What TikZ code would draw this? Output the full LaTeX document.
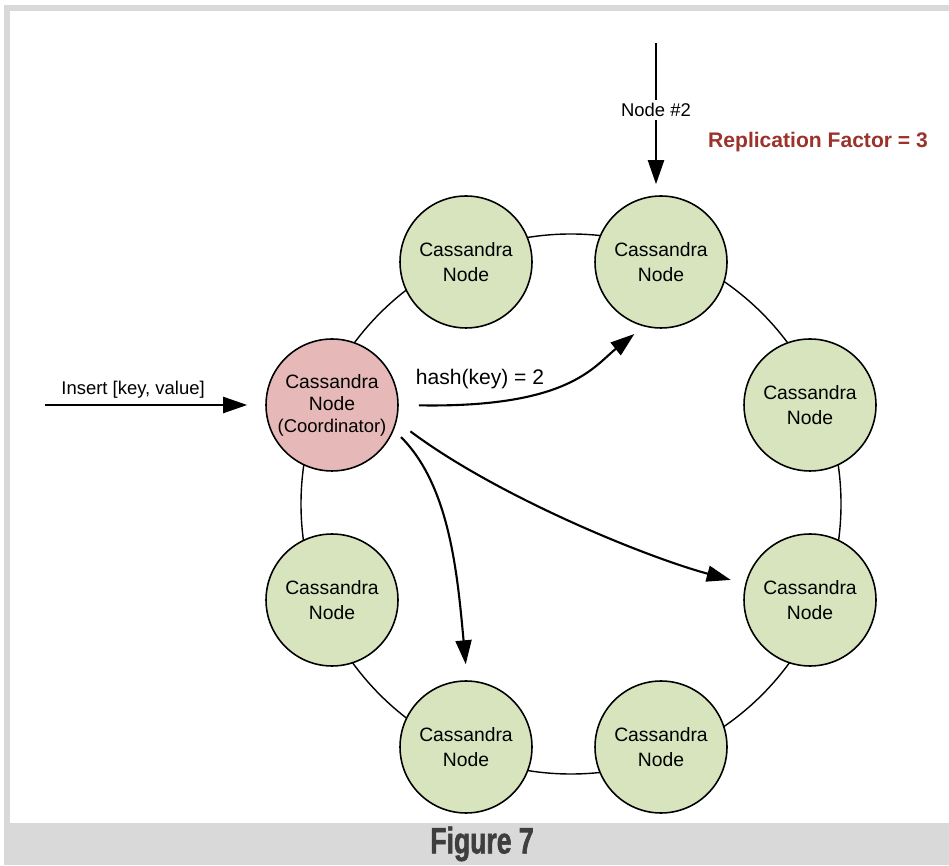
\documentclass[tikz,border=0pt]{standalone}
\usepackage{fontspec}
\setmainfont{Liberation Sans}
\newfontfamily\capfont[FakeStretch=0.72, FakeBold=1.5]{Liberation Sans Bold}
\usetikzlibrary{arrows.meta}

\definecolor{nodegreen}{RGB}{215,228,189}
\definecolor{coordred}{RGB}{230,185,184}
\definecolor{framegray}{RGB}{217,217,217}
\definecolor{rfred}{RGB}{156,50,44}
\definecolor{capgray}{RGB}{62,62,62}

\begin{document}
\begin{tikzpicture}[
  x=0.02cm,
  y=0.02cm,
  font=\fontsize{11}{13.8}\selectfont,
  cnode/.style={circle, draw, line width=0.9pt, fill=nodegreen, minimum size=2.64cm, inner sep=0pt, align=center},
  coordnode/.style={cnode, fill=coordred, font=\fontsize{11}{12.5}\selectfont},
  ring/.style={line width=0.8pt},
  arr/.style={-{Triangle[length=0.48cm, width=0.32cm]}, line width=1.2pt},
  lbl/.style={font=\fontsize{10.5}{12}\selectfont, inner sep=2pt}
]
\useasboundingbox (0,0) rectangle (949,865);

% Rahmen und Bildunterschrift
\fill[framegray] (4,0) rectangle (949,860);
\fill[white] (10,42) rectangle (949,854);
\node[font=\capfont\fontsize{21}{21}\selectfont, text=capgray] (caption) at (482,21) {Figure 7};

% Ring
\draw[ring] (571,361) circle[radius=270];

% Knoten im Ring
\node[coordnode] (coord) at (332,460) {Cassandra\\Node\\{\fontsize{10.5}{12}\selectfont(Coordinator)}};
\node[cnode] (n1) at (466,603) {Cassandra\\Node};
\node[cnode] (n2) at (661,603) {Cassandra\\Node};
\node[cnode] (n3) at (810,460) {Cassandra\\Node};
\node[cnode] (n4) at (810,265) {Cassandra\\Node};
\node[cnode] (n5) at (661,118) {Cassandra\\Node};
\node[cnode] (n6) at (466,118) {Cassandra\\Node};
\node[cnode] (n7) at (332,265) {Cassandra\\Node};

% Beschriftungen
\node[font=\fontsize{12}{14}\selectfont] (hashlbl) at (480,486) {hash(key) = 2};
\node[font=\bfseries\fontsize{12}{14}\selectfont, text=rfred] (repl) at (818,723) {Replication Factor = 3};

% Eingang
\coordinate (ins) at (45,460);
\draw[arr, shorten >=0.36cm] (ins) -- (coord.west) node[lbl, above=1pt, pos=0.4] (inslbl) {Insert [key, value]};

\coordinate (top2) at (656,822);
\draw[arr, shorten >=0.22cm] (top2) -- (top2 |- n2.north) node[lbl, fill=white, pos=0.44] (n2lbl) {Node \#2};

% Replikate
\draw[arr, shorten <=0.4cm, shorten >=0.24cm] (coord.east) .. controls +(170,-3) and +(-50,-40) .. (n2.255);
\draw[arr, shorten <=0.34cm, shorten >=0.3cm] (coord.-14) .. controls +(100,-75) and +(-100,27) .. (n4.166);
\draw[arr, shorten <=0.2cm, shorten >=0.32cm] (coord.-22) .. controls +(55,-55) and +(-10,110) .. (n6.89);

\end{tikzpicture}
\end{document}
